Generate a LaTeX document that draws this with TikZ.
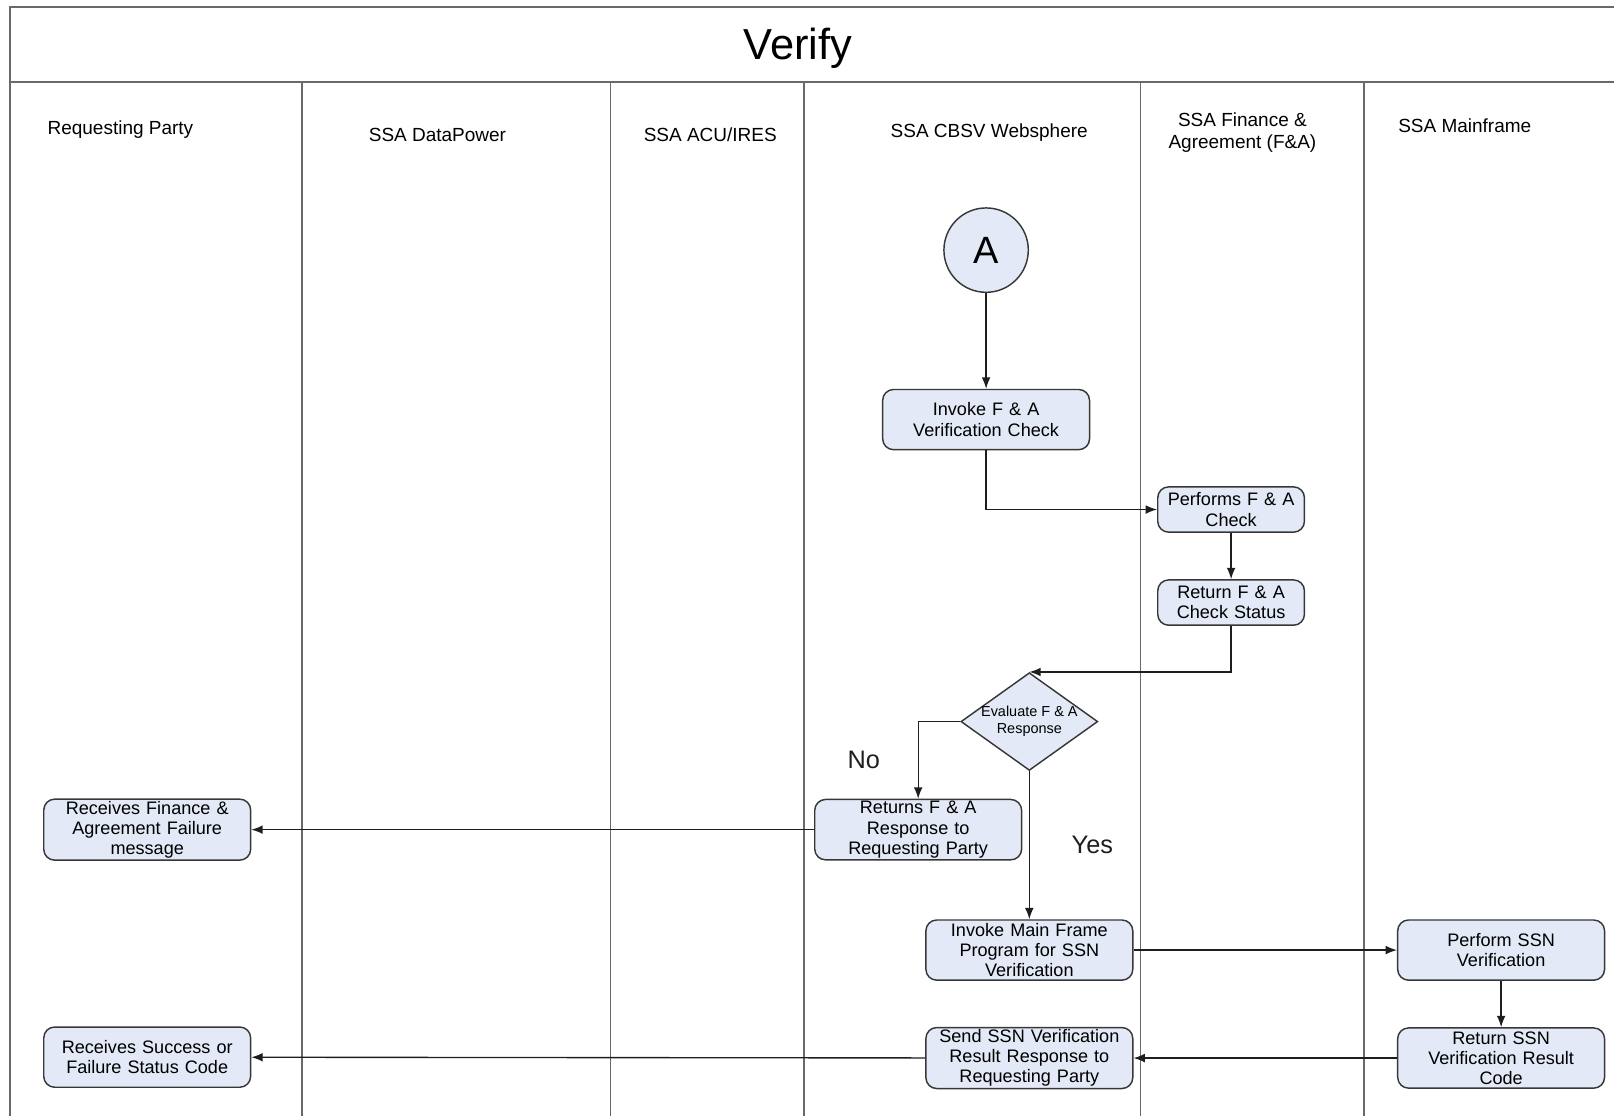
\documentclass[tikz,border=0pt]{standalone}
\usepackage{fontspec}
\setmainfont{Liberation Sans}
\usetikzlibrary{shapes.geometric, arrows.meta, positioning, calc}
\definecolor{boxfill}{RGB}{227,233,246}
\definecolor{boxline}{RGB}{55,55,55}
\definecolor{laneline}{RGB}{105,105,105}
\definecolor{flowline}{RGB}{30,30,30}
\tikzset{
  procbox/.style={
    rectangle, rounded corners=6pt,
    minimum width=4.02cm, minimum height=1.17cm,
    draw=boxline, fill=boxfill, line width=0.8pt,
    font=\fontsize{10}{11.2}\selectfont, text centered, align=center,
    text width=3.95cm, inner sep=1pt
  },
  smallbox/.style={
    procbox,
    minimum width=2.82cm, minimum height=0.88cm,
    text width=2.78cm
  },
  offpage/.style={
    circle, minimum size=1.64cm,
    draw=boxline, fill=boxfill, line width=0.8pt,
    font=\fontsize{21}{24}\selectfont, inner sep=0pt
  },
  decision/.style={
    diamond,
    minimum width=2.66cm, minimum height=1.9cm,
    draw=boxline, fill=boxfill, line width=0.8pt,
    inner sep=0pt
  },
  evaltext/.style={
    font=\fontsize{8}{9.6}\selectfont, align=center, inner sep=0pt
  },
  flow/.style={-{Latex[length=2.2mm, width=1.7mm]}, line width=0.75pt, color=flowline},
  branch/.style={font=\fontsize{14}{16}\selectfont, inner sep=0pt},
  lanehead/.style={font=\fontsize{10.5}{12.5}\selectfont, align=center},
  lanesep/.style={draw=laneline, line width=1pt}
}

\begin{document}
\begin{tikzpicture}[x=0.02cm, y=-0.02cm]

\useasboundingbox (0,0) rectangle (1568,1084);

% ═══════════════════════════════════════════════════════════════════
% POOL FRAME AND LANES
% ═══════════════════════════════════════════════════════════════════

\draw[lanesep] (1568,7) -- (10,7) -- (10,1084);
\draw[lanesep] (10,80) -- (1568,80);
\foreach \x in {293,593,781,1108,1325}
  \draw[lanesep] (\x,80) -- (\x,1084);

\node[font=\fontsize{24}{28}\selectfont] (title) at (775,47) {Verify};

\node[lanehead] (hreq)   at (117,126)  {Requesting Party};
\node[lanehead] (hdp)    at (425,131)  {SSA DataPower};
\node[lanehead] (hacu)   at (690,131)  {SSA ACU/IRES};
\node[lanehead] (hcbsv)  at (961,129)  {SSA CBSV Websphere};
\node[lanehead] (hfa)    at (1207,129) {SSA Finance \&\\Agreement (F\&A)};
\node[lanehead] (hmain)  at (1423,122) {SSA Mainframe};

% ═══════════════════════════════════════════════════════════════════
% SSA CBSV WEBSPHERE / F&A
% ═══════════════════════════════════════════════════════════════════

\node[offpage] (conA) at (958,243) {A};

\node[procbox, below=1.86cm of conA]
  (invokefa) {Invoke F \& A\\Verification Check};

\node[smallbox] (performfa) at (1196,495)
  {Performs F \& A\\Check};

\node[smallbox, below=0.9cm of performfa]
  (returnfa) {Return F \& A\\Check Status};

\node[decision,
      label={[evaltext]center:Evaluate F \& A\\Response}]
  (evalfa) at (1000,701) {};

\node[procbox] (returnresp) at (892,806)
  {Returns F \& A\\Response to\\Requesting Party};

% ═══════════════════════════════════════════════════════════════════
% SSN VERIFICATION
% ═══════════════════════════════════════════════════════════════════

\node[procbox] (invokemf) at (1000,923)
  {Invoke Main Frame\\Program for SSN\\Verification};

\node[procbox, right=5.12cm of invokemf]
  (performssn) {Perform SSN\\Verification};

\node[procbox, below=0.9cm of performssn]
  (returnssn) {Return SSN\\Verification Result\\Code};

\node[procbox, left=5.12cm of returnssn]
  (sendssn) {Send SSN Verification\\Result Response to\\Requesting Party};

% ═══════════════════════════════════════════════════════════════════
% REQUESTING PARTY
% ═══════════════════════════════════════════════════════════════════

\node[procbox] (recvfail) at (143,806)
  {Receives Finance \&\\Agreement Failure\\message};

\node[procbox] (recvstatus) at (143,1027)
  {Receives Success or\\Failure Status Code};

% ═══════════════════════════════════════════════════════════════════
% SEQUENCE FLOWS
% ═══════════════════════════════════════════════════════════════════

\draw[flow] (conA) -- (invokefa);
\draw[flow] (invokefa.south) |- (performfa.west);
\draw[flow] (performfa) -- (returnfa);
\draw[flow] (returnfa.south) |- (evalfa.north);

% No branch
\draw[flow] (evalfa.west)
  -| node[branch, pos=0.75, left=0.73cm] {No}
  (returnresp.north);
\draw[flow] (returnresp) -- (recvfail);

% Yes branch
\draw[flow] (evalfa.south)
  -- node[branch, midway, right=0.81cm] {Yes}
  (invokemf.north);
\draw[flow] (invokemf) -- (performssn);
\draw[flow] (performssn) -- (returnssn);
\draw[flow] (returnssn) -- (sendssn);
\draw[flow] (sendssn) -- (recvstatus);

\end{tikzpicture}
\end{document}
